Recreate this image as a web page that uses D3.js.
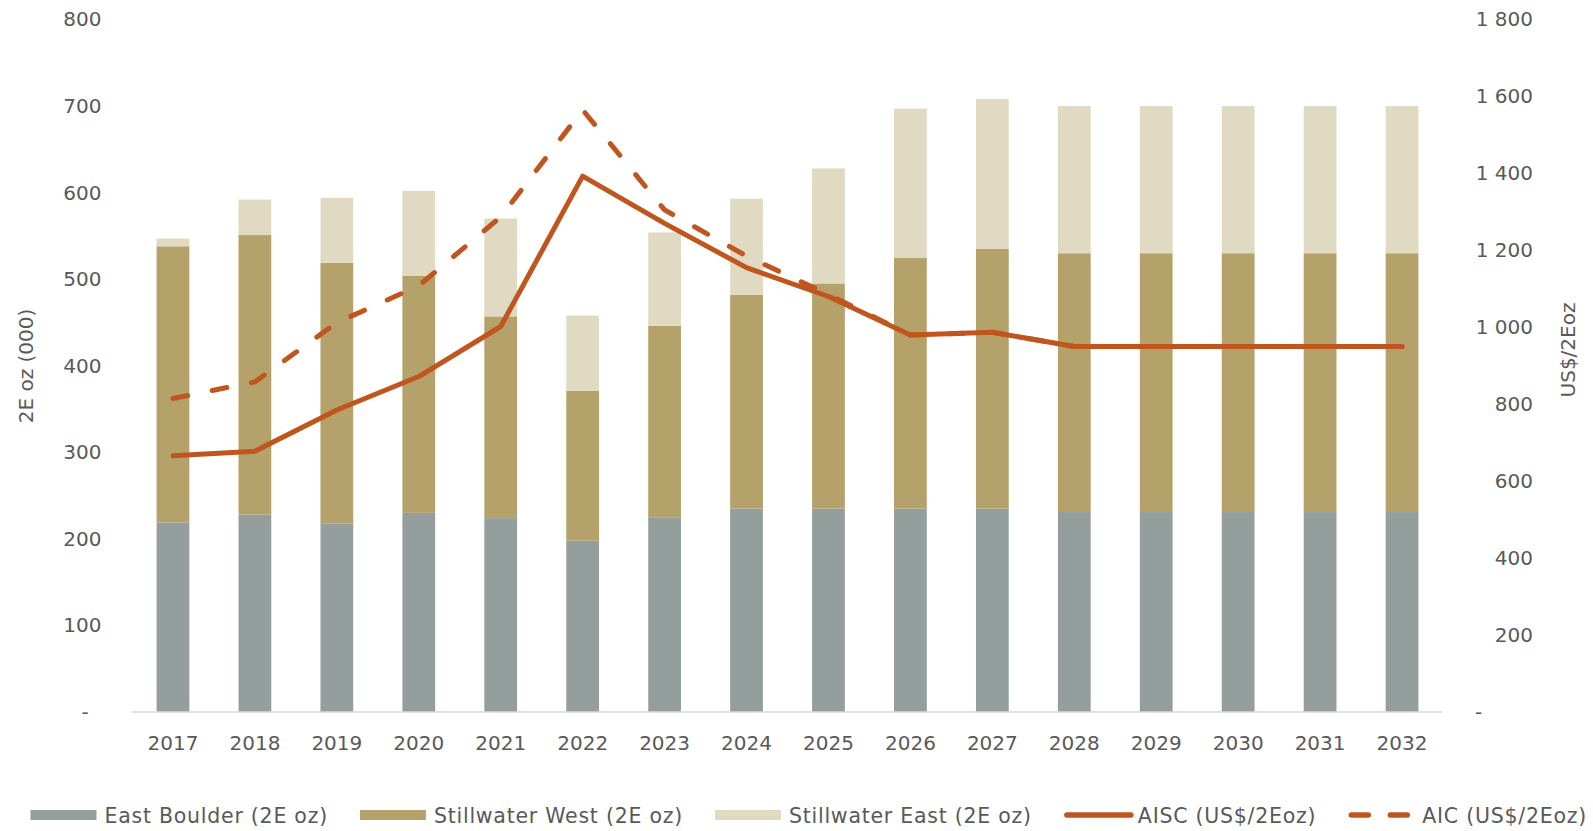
<!DOCTYPE html>
<html>
<head>
<meta charset="utf-8">
<script src="https://cdn.jsdelivr.net/npm/d3@7"></script>
<style>
  html, body { margin: 0; padding: 0; background: #ffffff; }
  svg { display: block; font-family: "DejaVu Sans", sans-serif; }
  text { fill: #595959; }
</style>
</head>
<body>
<svg id="chart" width="1593" height="831"></svg>
<script>
// Production by mine (2E oz, thousands) and unit costs (US$/2Eoz)
const years = ["2017","2018","2019","2020","2021","2022","2023","2024",
               "2025","2026","2027","2028","2029","2030","2031","2032"];
const eastBoulder     = [219, 228, 218, 230, 224, 198, 225, 235, 235, 235, 235, 231, 231, 231, 231, 231];
const stillwaterWest  = [319, 323, 301, 274, 233, 173, 221, 247, 260, 290, 300, 299, 299, 299, 299, 299];
const stillwaterEast  = [  9,  41,  75,  98, 113,  87, 108, 111, 133, 172, 173, 170, 170, 170, 170, 170];
const aisc = [666, 678, 785, 872, 1002, 1393, 1270, 1155, 1080, 980, 987, 950, 950, 950, 950, 950];
const aic  = [815, 858, 1012, 1108, 1287, 1565, 1305, 1185, 1085, 980, 987, 950, 950, 950, 950, 950];

const leftTicks  = [0, 100, 200, 300, 400, 500, 600, 700, 800];
const rightTicks = [0, 200, 400, 600, 800, 1000, 1200, 1400, 1600, 1800];

const barSeries = [
  { key: "East Boulder (2E oz)",    values: eastBoulder,    color: "#949f9d" },
  { key: "Stillwater West (2E oz)", values: stillwaterWest, color: "#b4a26a" },
  { key: "Stillwater East (2E oz)", values: stillwaterEast, color: "#e0dac2" }
];
const lineSeries = [
  { key: "AISC (US$/2Eoz)", values: aisc, dash: null },
  { key: "AIC (US$/2Eoz)",  values: aic,  dash: "15,25" }
];
const lineColor = "#c0561e";

const svg = d3.select("#chart");
const plot = { left: 132, right: 1443, top: 19.5, bottom: 712 };

const x = d3.scaleBand().domain(years).range([plot.left, plot.right])
  .paddingInner(0.6).paddingOuter(0.3);
const yL = d3.scaleLinear().domain([0, 800]).range([plot.bottom, plot.top]);
const yR = d3.scaleLinear().domain([0, 1800]).range([plot.bottom, plot.top]);

// stacked bars
const rows = years.map((yr, i) => {
  const r = { year: yr };
  barSeries.forEach(s => { r[s.key] = s.values[i]; });
  return r;
});
const stack = d3.stack().keys(barSeries.map(s => s.key))(rows);

svg.append("g").selectAll("g").data(stack).join("g")
  .attr("fill", (d, i) => barSeries[i].color)
  .selectAll("rect").data(d => d).join("rect")
  .attr("x", d => x(d.data.year))
  .attr("width", x.bandwidth())
  .attr("y", d => yL(d[1]))
  .attr("height", d => yL(d[0]) - yL(d[1]));

// baseline
svg.append("line")
  .attr("x1", plot.left).attr("x2", plot.right)
  .attr("y1", yL(0)).attr("y2", yL(0))
  .attr("stroke", "#d9d9d9").attr("stroke-width", 1.3);

// cost lines
const line = d3.line()
  .x((d, i) => x(years[i]) + x.bandwidth() / 2)
  .y(d => yR(d));

lineSeries.forEach(s => {
  svg.append("path")
    .datum(s.values)
    .attr("d", line)
    .attr("fill", "none")
    .attr("stroke", lineColor)
    .attr("stroke-width", 5)
    .attr("stroke-linejoin", "round")
    .attr("stroke-linecap", "round")
    .attr("stroke-dasharray", s.dash);
});

// axes
const fs = "\u2007";
const leftAxis = d3.axisLeft(yL).tickValues(leftTicks).tickSize(0).tickPadding(0)
  .tickFormat(d => d === 0 ? "-" + fs : d3.format("d")(d));
const gL = svg.append("g").attr("transform", `translate(${101.5},0)`).call(leftAxis);

const rightAxis = d3.axisLeft(yR).tickValues(rightTicks).tickSize(0).tickPadding(0)
  .tickFormat(d => d === 0 ? "-" + fs + fs + fs + fs : d3.format(",")(d).replace(/,/g, " "));
const gR = svg.append("g").attr("transform", `translate(${1533},0)`).call(rightAxis);

const bottomAxis = d3.axisBottom(x).tickSize(0).tickPadding(0);
const gB = svg.append("g").attr("transform", `translate(0,${plot.bottom})`).call(bottomAxis);

[gL, gR, gB].forEach(g => {
  g.select(".domain").remove();
  g.selectAll("text")
    .attr("fill", "#595959")
    .style("font-size", "20px")
    .style("font-family", "'DejaVu Sans', sans-serif");
});
gB.selectAll("text").attr("dy", null).attr("y", 38);

// axis titles
svg.append("text")
  .attr("transform", `translate(33,366) rotate(-90)`)
  .attr("text-anchor", "middle")
  .style("font-size", "20px")
  .text("2E oz (000)");
svg.append("text")
  .attr("transform", `translate(1575,350) rotate(-90)`)
  .attr("text-anchor", "middle")
  .style("font-size", "20px")
  .text("US$/2Eoz");

// legend
const legend = svg.append("g").attr("transform", "translate(0,815)");
const items = [
  ...barSeries.map(s => ({ label: s.key, type: "rect", color: s.color })),
  ...lineSeries.map(s => ({ label: s.key, type: "line", dash: s.dash }))
];
let cx = 30.5;
items.forEach(it => {
  const g = legend.append("g");
  if (it.type === "rect") {
    g.append("rect").attr("x", cx).attr("y", -5).attr("width", 66).attr("height", 10)
      .attr("fill", it.color);
  } else {
    g.append("line").attr("x1", cx + 3).attr("x2", cx + 67).attr("y1", 0).attr("y2", 0)
      .attr("stroke", lineColor).attr("stroke-width", 5.5)
      .attr("stroke-linecap", "round")
      .attr("stroke-dasharray", it.dash ? "17,22" : null);
  }
  const t = g.append("text").attr("x", cx + 74).attr("y", 7.5)
    .style("font-size", "20.5px").style("letter-spacing", "0.75px").text(it.label);
  cx = cx + 74 + t.node().getComputedTextLength() + 32;
});
</script>
</body>
</html>
